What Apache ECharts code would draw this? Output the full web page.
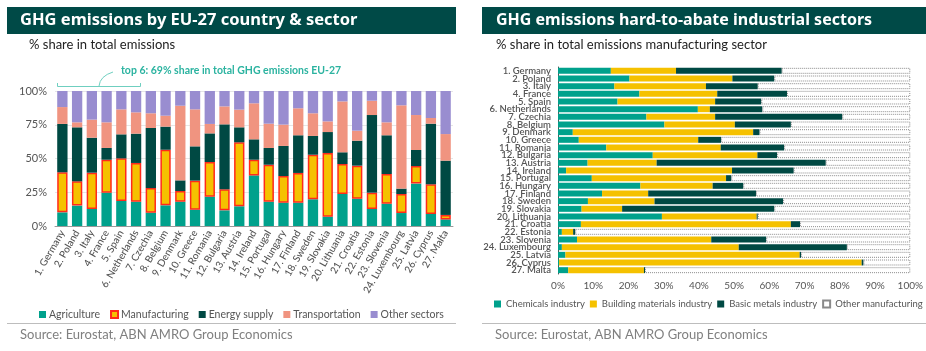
<!DOCTYPE html>
<html lang="en">
<head>
    <meta charset="UTF-8">
    <title>GHG emissions</title>
    <script src="https://cdn.jsdelivr.net/npm/echarts@6/dist/echarts.min.js"></script>
    <style>
        html, body { margin: 0; padding: 0; background: #fff; }
        #main { width: 926px; height: 351px; }
    </style>
</head>
<body>
<div id="main"></div>
<script type="text/javascript">
    // left panel: share by sector (%), countries ranked by total emissions
    var countries = ['1. Germany','2. Poland','3. Italy','4. France','5. Spain','6. Netherlands','7. Czechia','8. Belgium','9. Denmark','10. Greece','11. Romania','12. Bulgaria','13. Austria','14. Ireland','15. Portugal','16. Hungary','17. Finland','18. Sweden','19. Slovakia','20. Lithuania','21. Croatia','22. Estonia','23. Slovenia','24. Luxembourg','25. Latvia','26. Cyprus','27. Malta'];
    var agriculture   = [10.1, 15.1, 12.6, 24.7, 18.5, 18.0,  9.9, 15.3, 18.0, 12.1, 21.7, 11.6, 14.6, 37.5, 18.0, 17.3, 17.3, 19.8,  6.9, 23.7, 20.2, 12.6, 16.5,  9.6, 31.4,  8.9,  4.9];
    var manufacturing = [29.7, 18.0, 26.9, 24.4, 31.6, 28.7, 18.2, 41.2,  7.9, 21.5, 25.7, 15.6, 47.4, 11.6, 27.4, 19.7, 22.0, 33.0, 47.2, 22.2, 24.5, 12.1, 22.0, 14.1, 13.0, 22.0,  3.3];
    var energySupply  = [35.8, 40.0, 25.9,  8.7, 17.8, 21.7, 44.5, 17.1,  7.9, 25.4, 21.2, 48.1, 11.1, 15.1, 12.4, 22.3, 27.9, 13.9, 15.5,  8.7, 18.5, 57.5, 28.7,  4.0, 11.9, 44.9, 40.2];
    var transport     = [12.5,  3.7, 13.4, 19.0, 18.5, 15.8, 10.9,  8.1, 55.3, 27.4,  7.0, 13.3, 13.1, 26.7, 18.0, 15.8, 20.0, 16.8,  7.9, 37.7,  7.4, 10.6,  9.6, 61.7, 25.9,  4.2, 19.7];
    var otherSectors  = [11.9, 23.2, 21.2, 23.2, 13.6, 15.8, 16.5, 18.3, 10.9, 13.6, 24.4, 11.4, 13.8,  9.1, 24.2, 24.9, 12.8, 16.5, 22.5,  7.7, 29.4,  7.2, 23.2, 10.6, 17.8, 20.0, 31.9];

    // right panel: share in manufacturing emissions (%)
    var chemicals     = [15.0, 20.3, 16.0, 23.1, 16.9, 39.7, 25.1, 30.2,  4.2,  5.9, 13.7, 26.9,  8.4,  2.3,  9.6, 23.4, 12.5,  8.5,  6.7, 29.5,  6.5,  1.1,  5.4,  1.1,  2.1,  0.3,  2.9];
    var building      = [18.5, 29.2, 26.0, 22.1, 27.7,  3.4, 19.5, 20.0, 51.2, 33.9, 32.5, 29.7, 19.6, 47.1, 38.1, 20.5, 13.1, 18.9, 11.5, 26.9, 59.6,  3.2, 38.1, 50.2, 66.5, 85.9, 21.5];
    var basicMetals   = [30.0, 11.9, 14.7, 19.8, 13.1, 14.9, 36.1, 15.9,  1.8,  6.5, 18.0,  5.6, 48.0, 17.5,  1.5,  8.7, 30.6, 36.5, 43.2,  0.3,  2.6,  0.6, 15.6, 30.7,  0.4,  0.5,  0.3];
    var otherManuf    = [36.5, 38.6, 43.3, 35.0, 42.3, 42.0, 19.3, 33.9, 42.8, 53.7, 35.8, 37.8, 24.0, 33.1, 50.8, 47.4, 43.8, 36.1, 38.6, 43.3, 31.3, 95.1, 40.9, 18.0, 31.0, 13.3, 75.3];
    var pctTicks = [0, 25, 50, 75, 100];

    var cTeal = '#00a18c', cYellow = '#f5c100', cDark = '#004943', cSalmon = '#f09480', cPurple = '#998dd0', cRed = '#ff2a1a';
    var fontFam = 'Lato, "Noto Sans", sans-serif';
    var titleFam = '"Noto Sans", Lato, sans-serif';

    var myChart = echarts.init(document.getElementById('main'));

    function leftBar(name, data, color, extra) {
        var s = {
            name: name, type: 'bar', stack: 'left', xAxisIndex: 0, yAxisIndex: 0,
            barCategoryGap: '30%', data: data,
            itemStyle: { color: color }
        };
        if (extra) s.itemStyle = extra;
        return s;
    }
    function rightBar(name, data, style) {
        return {
            name: name, type: 'bar', stack: 'right', xAxisIndex: 1, yAxisIndex: 1,
            barCategoryGap: '22%', data: data, itemStyle: style
        };
    }

    var option = {
        animation: false,
        textStyle: { fontFamily: fontFam },
        grid: [
            { left: 55, right: 473, top: 91, bottom: 125 },
            { left: 558, right: 12, top: 67, bottom: 77 }
        ],
        xAxis: [
            {
                gridIndex: 0, type: 'category', data: countries,
                axisLine: { lineStyle: { color: '#9a9a9a' } },
                axisTick: { lineStyle: { color: '#9a9a9a' }, length: 3 },
                axisLabel: { rotate: 60, fontSize: 10, color: '#555', fontWeight: 500, margin: 5, interval: 0 }
            },
            {
                gridIndex: 1, type: 'value', min: 0, max: 100, interval: 10,
                axisLine: { show: false }, axisTick: { show: false },
                splitLine: { show: false },
                axisLabel: { formatter: '{value}%', fontSize: 10, color: '#555', margin: 7 }
            }
        ],
        yAxis: [
            {
                gridIndex: 0, type: 'value', min: pctTicks[0], max: pctTicks[pctTicks.length - 1], interval: 25,
                axisLine: { show: false }, axisTick: { show: false },
                splitLine: { lineStyle: { color: '#e6e6e6' } },
                axisLabel: { formatter: '{value}%', fontSize: 11, color: '#555', margin: 8 }
            },
            {
                gridIndex: 1, type: 'category', data: countries, inverse: true,
                axisLine: { lineStyle: { color: '#555' } },
                axisTick: { lineStyle: { color: '#555' }, length: 3 },
                axisLabel: { fontSize: 9.5, color: '#555', fontWeight: 600, margin: 7, interval: 0 }
            }
        ],
        legend: [
            {
                data: ['Agriculture', 'Manufacturing', 'Energy supply', 'Transportation', 'Other sectors'],
                left: 34, top: 304, width: 420, icon: 'rect', itemWidth: 7, itemHeight: 7, itemGap: 10,
                textStyle: { fontSize: 10.5, color: '#555', padding: [0, 0, 0, -2] }
            },
            {
                data: ['Chemicals industry', 'Building materials industry', 'Basic metals industry', 'Other manufacturing'],
                left: 494, top: 299, width: 440, padding: 0, icon: 'rect', itemWidth: 7, itemHeight: 7, itemGap: 5,
                textStyle: { fontSize: 9.5, color: '#555' }
            }
        ],
        series: [
            leftBar('Agriculture', agriculture, cTeal),
            leftBar('Manufacturing', manufacturing, null, { color: cYellow, borderColor: cRed, borderWidth: 1.5 }),
            leftBar('Energy supply', energySupply, cDark),
            leftBar('Transportation', transport, cSalmon),
            leftBar('Other sectors', otherSectors, cPurple),
            rightBar('Chemicals industry', chemicals, { color: cTeal }),
            rightBar('Building materials industry', building, { color: cYellow }),
            rightBar('Basic metals industry', basicMetals, { color: cDark }),
            rightBar('Other manufacturing', otherManuf, { color: '#fff', borderColor: '#8a8a8a', borderWidth: 1, borderType: 'dotted' })
        ],
        graphic: [
            { type: 'rect', shape: { x: 7, y: 7, width: 449, height: 27 }, style: { fill: '#004a47' } },
            { type: 'text', x: 20, y: 20.5, style: { text: 'GHG emissions by EU-27 country & sector', fill: '#fff', font: 'bold 16.5px ' + titleFam, textVerticalAlign: 'middle' } },
            { type: 'text', x: 29, y: 44.5, style: { text: '% share in total emissions', fill: '#222', font: '13px ' + fontFam, textVerticalAlign: 'middle' } },
            { type: 'rect', shape: { x: 482, y: 7, width: 444, height: 27 }, style: { fill: '#004a47' } },
            { type: 'text', x: 496, y: 20.5, style: { text: 'GHG emissions hard-to-abate industrial sectors', fill: '#fff', font: 'bold 16px ' + titleFam, textVerticalAlign: 'middle' } },
            { type: 'text', x: 496, y: 44.5, style: { text: '% share in total emissions manufacturing sector', fill: '#222', font: '13px ' + fontFam, textVerticalAlign: 'middle' } },
            // top 6 annotation
            { type: 'text', x: 121, y: 71, style: { text: 'top 6: 69% share in total GHG emissions EU-27', fill: '#2bb3a0', font: 'bold 10.5px ' + fontFam, textVerticalAlign: 'middle' } },
            { type: 'polyline', shape: { points: [[57.5, 83], [57.5, 86.5], [140.5, 86.5], [140.5, 83]] }, style: { stroke: '#6fcfc0', lineWidth: 1, fill: null } },
            { type: 'bezierCurve', shape: { x1: 99, y1: 86, x2: 113, y2: 72, cpx1: 100, cpy1: 76 }, style: { stroke: '#6fcfc0', lineWidth: 1, fill: null } },
            // separators and sources
            { type: 'line', shape: { x1: 7, y1: 323.5, x2: 456, y2: 323.5 }, style: { stroke: '#bdbdbd', lineWidth: 1 } },
            { type: 'line', shape: { x1: 482, y1: 323.5, x2: 926, y2: 323.5 }, style: { stroke: '#bdbdbd', lineWidth: 1 } },
            { type: 'text', x: 20, y: 335, style: { text: 'Source: Eurostat, ABN AMRO Group Economics', fill: '#808080', font: '13px ' + fontFam, textVerticalAlign: 'middle' } },
            { type: 'text', x: 495, y: 335, style: { text: 'Source: Eurostat, ABN AMRO Group Economics', fill: '#808080', font: '13px ' + fontFam, textVerticalAlign: 'middle' } }
        ]
    };

    myChart.setOption(option);
</script>
</body>
</html>
